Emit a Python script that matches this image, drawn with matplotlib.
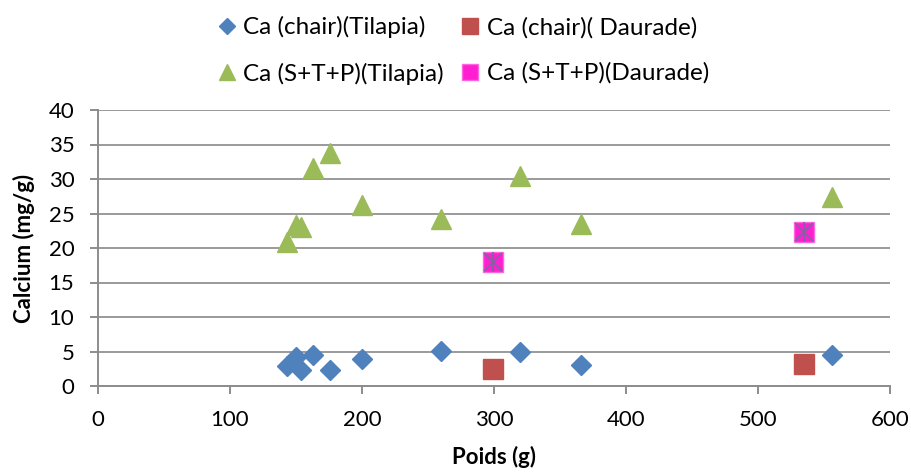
import matplotlib.pyplot as plt
from matplotlib.lines import Line2D

# Poids (g) et teneur en calcium (mg/g)
poids_tilapia = [143, 150, 154, 163, 176, 200, 260, 320, 366, 556]
ca_chair_tilapia = [2.9, 4.2, 2.3, 4.5, 2.3, 3.9, 5.1, 4.9, 3.0, 4.5]
ca_stp_tilapia = [20.9, 23.4, 23.1, 31.6, 33.8, 26.2, 24.2, 30.5, 23.5, 27.4]

poids_daurade = [299, 535]
ca_chair_daurade = [2.5, 3.2]
ca_stp_daurade = [17.9, 22.3]

plt.rcParams['font.family'] = ['Lato', 'DejaVu Sans']

fig = plt.figure(figsize=(9.12, 4.76), dpi=100)
ax = fig.add_axes([98 / 912, 1 - 386 / 476, 792 / 912, 276 / 476])

blue, red, green, pink, star = '#4F81BD', '#C0504D', '#9BBB59', '#FF1FD0', '#8064A2'

ax.plot(poids_tilapia, ca_chair_tilapia, 'D', ms=10, color=blue, mec=blue, zorder=3)
ax.plot(poids_daurade, ca_chair_daurade, 's', ms=14, color=red, mec=red, zorder=3)
ax.plot(poids_tilapia, ca_stp_tilapia, '^', ms=14, color=green, mec=green, zorder=3)
ax.plot(poids_daurade, ca_stp_daurade, 's', ms=14, color=pink, mec='#FF66E0', zorder=3)
ax.plot(poids_daurade, ca_stp_daurade, 'x', ms=13, mew=1.3, color=star, zorder=4)
ax.plot(poids_daurade, ca_stp_daurade, '|', ms=14, mew=1.3, color=star, zorder=4)

ax.set_xlim(0, 600)
ax.set_ylim(0, 40)
ax.set_xticks(range(0, 601, 100))
ax.set_yticks(range(0, 41, 5))
ax.yaxis.grid(True, color='#9A9A9A', lw=1.4)
ax.set_axisbelow(True)

for side in ['top', 'right']:
    ax.spines[side].set_visible(False)
for side in ['left', 'bottom']:
    ax.spines[side].set_color('#8C8C8C')
    ax.spines[side].set_linewidth(1.4)
ax.tick_params(axis='both', colors='#8C8C8C', length=6, width=1.4, labelsize=16,
               labelcolor='black')
ax.tick_params(axis='y', pad=11)
ax.tick_params(axis='x', pad=11)

ax.set_xlabel('Poids (g)', fontsize=16, fontweight='bold', labelpad=12)
ax.set_ylabel('Calcium (mg/g)', fontsize=16, fontweight='bold', labelpad=10)

# Légende sur deux lignes au-dessus du graphique
handles = [
    Line2D([], [], ls='none', marker='D', ms=8, color=blue),
    Line2D([], [], ls='none', marker='s', ms=12, color=red),
    Line2D([], [], ls='none', marker='^', ms=12, color=green),
    Line2D([], [], ls='none', marker='s', ms=12, color=pink, mec='#FF66E0'),
]
labels = ['Ca (chair)(Tilapia)', 'Ca (chair)( Daurade)',
          'Ca (S+T+P)(Tilapia)', 'Ca (S+T+P)(Daurade)']
order = [0, 2, 1, 3]
fig.legend([handles[i] for i in order], [labels[i] for i in order],
           ncol=2, loc='upper left', bbox_to_anchor=(196 / 912, 1.012),
           frameon=False, fontsize=17.5, handlelength=0.75, handletextpad=0.3,
           columnspacing=0.7, labelspacing=1.0)

fig.savefig('out.png', dpi=100)
